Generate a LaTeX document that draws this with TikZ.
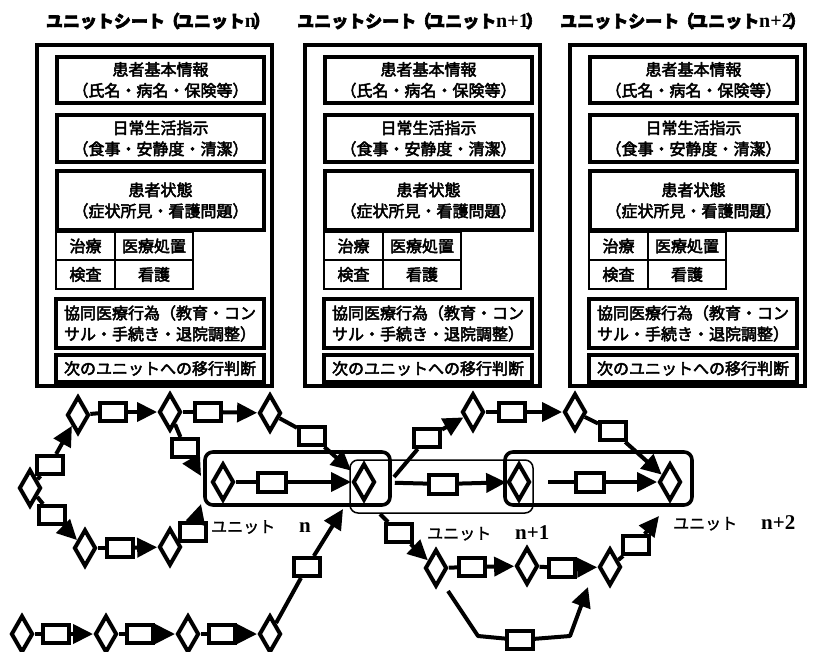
\documentclass[tikz,border=0pt]{standalone}
\usepackage{fontspec}
\setmainfont{Liberation Serif}
\newfontfamily\jp{Noto Sans CJK JP}[FakeBold=3]
\newfontfamily\jpt{Noto Sans CJK JP}[FakeBold=3.5]
\newfontfamily\jpl{Noto Sans CJK JP}[FakeBold=1.5]
\usetikzlibrary{shapes.geometric,arrows.meta}
\begin{document}
\begin{tikzpicture}[x=1pt,y=-1pt,
  dia/.style={diamond, draw, line width=4pt, fill=white, minimum width=22pt, minimum height=37pt, inner sep=0pt},
  blk/.style={rectangle, draw, line width=4pt, fill=white, minimum width=26pt, minimum height=18pt, inner sep=0pt},
  ln/.style={line width=4pt},
  arr/.style={line width=4pt, -{Triangle[length=20pt,width=19pt]}},
  unitbox/.style={rectangle, rounded corners=8pt, draw, line width=3.6pt, inner sep=0pt},
  sheet/.style={rectangle, draw, line width=3.6pt, inner sep=0pt, minimum width=235pt, minimum height=341pt},
  ibox/.style={rectangle, draw, line width=3.4pt, inner sep=0pt, minimum width=207pt, align=center, font=\jp\fontsize{16}{21}\selectfont},
  cell/.style={rectangle, draw, line width=2.8pt, inner sep=0pt, font=\jp\fontsize{16}{18}\selectfont},
  ttl/.style={font=\fontsize{17}{19}\selectfont\bfseries},
  ulab/.style={anchor=west, inner sep=0pt}]
\useasboundingbox (0,0) rectangle (817,651);

% ---------- unit sheets ----------
\foreach \ox/\s/\tx/\lab in {0/1/158/n, 268/2/420/n+1, 533/3/683/n+2}{
  \node[ttl] (title\s) at (\tx,21) {{\jpt ユニットシート}{\jpt\kern-2pt（\kern-3pt ユニット}{\fontsize{20}{20}\selectfont\lab}{\jpt\kern-3pt ）}};
  \node[sheet] (sheet\s) at (154.5+\ox,215.5) {};
  \node[ibox, minimum height=46pt] (basic\s) at (160.5+\ox,80) {患者基本情報\\（氏名・病名・保険等）};
  \node[ibox, minimum height=47pt] (daily\s) at (160.5+\ox,138.5) {日常生活指示\\（食事・安静度・清潔）};
  \node[ibox, minimum height=59pt] (state\s) at (160.5+\ox,200.5) {患者状態\\（症状所見・看護問題）};
  \node[cell, minimum width=59pt, minimum height=28pt] (treat\s) at (85.5+\ox,246) {治療};
  \node[cell, minimum width=78pt, minimum height=28pt] (proc\s) at (154+\ox,246) {医療処置};
  \node[cell, minimum width=59pt, minimum height=29pt] (exam\s) at (85.5+\ox,274.5) {検査};
  \node[cell, minimum width=78pt, minimum height=29pt] (nurse\s) at (154+\ox,274.5) {看護};
  \node[ibox, minimum width=208pt, minimum height=49pt, align=left] (coop\s) at (160+\ox,323.5) {協同医療行為（教育・コン\\サル・手続き・退院調整）};
  \node[ibox, minimum width=208pt, minimum height=27pt] (next\s) at (160+\ox,368.5) {次のユニットへの移行判断};
}

% ---------- unit frames ----------
\node[unitbox, minimum width=185pt, minimum height=53pt] (unitn) at (297.5,478.5) {};
\node[unitbox, line width=1.5pt, minimum width=183pt, minimum height=53pt] (unitn1) at (441.5,486.5) {};
\node[unitbox, minimum width=187pt, minimum height=53pt] (unitn2) at (598.5,478.5) {};

% ---------- nodes ----------
% top-left row
\node[dia] (d1) at (78,415) {};
\node[blk] (r1) at (113,412) {};
\node[dia] (d2) at (170,412) {};
\node[blk] (r2) at (208,412) {};
\node[dia] (d3) at (270,413) {};
\node[blk] (r3) at (312,436) {};
\node[blk] (r4) at (185,448) {};
% left loop
\node[dia] (d4) at (30,488) {};
\node[blk] (r5) at (50,465) {};
\node[blk] (r6) at (52,515) {};
\node[dia] (d5) at (85,548) {};
\node[blk] (r7) at (120,548) {};
\node[dia] (d6) at (170,547) {};
\node[blk] (r8) at (193,532) {};
% unit row
\node[dia] (A) at (223,482) {};
\node[blk, minimum width=28pt, minimum height=19pt] (r9) at (272,482) {};
\node[dia] (B) at (364,482) {};
\node[blk, minimum width=28pt, minimum height=19pt] (r10) at (443,484) {};
\node[dia] (C) at (519,482) {};
\node[blk, minimum width=28pt, minimum height=19pt] (r11) at (590,482) {};
\node[dia] (D) at (670,482) {};
% upper right branch
\node[blk] (r12) at (427,438) {};
\node[dia] (E) at (473,412) {};
\node[blk] (r13) at (512,412) {};
\node[dia] (F) at (575,412) {};
\node[blk] (r14) at (613,431) {};
% lower right branch
\node[blk] (r15) at (399,533) {};
\node[dia] (G) at (436,568) {};
\node[blk] (r16) at (472,567) {};
\node[dia] (H) at (527,566) {};
\node[blk] (r17) at (562,568) {};
\node[dia] (I) at (610,567) {};
\node[blk] (r18) at (636,545) {};
\node[blk] (r19) at (520,640) {};
% bottom-left row
\node[dia] (d7) at (22,634) {};
\node[blk] (r20) at (56,634) {};
\node[dia] (d8) at (106,634) {};
\node[blk] (r21) at (140,634) {};
\node[dia] (d9) at (188,634) {};
\node[blk] (r22) at (222,634) {};
\node[dia] (d10) at (270,634) {};
\node[blk] (r23) at (307,567) {};

% free ends
\coordinate (c1) at (201,476);
\coordinate (c2) at (201,504);
\coordinate (cB1) at (394,477);
\coordinate (cB2) at (380,514);
\coordinate (c3) at (659,516);
\coordinate (c4) at (343,509);
\coordinate (gB) at (448,591);
\coordinate (g1) at (478,636);
\coordinate (g2) at (570,636);
\coordinate (g3) at (588,587);

% ---------- connectors ----------
\draw[ln] (d1) -- (r1); \draw[arr] (r1) -- (d2);
\draw[ln] (d2) -- (r2); \draw[arr] (r2) -- (d3);
\draw[ln] (d3) -- (r3); \draw[arr, shorten >=6pt] (r3) -- (B);
\draw[ln] (d2) -- (r4); \draw[arr] (r4) -- (c1);
\draw[ln] (d4) -- (r5); \draw[arr] (r5) -- (d1);
\draw[ln] (d4) -- (r6); \draw[arr] (r6) -- (d5);
\draw[ln] (d5) -- (r7); \draw[arr] (r7) -- (d6);
\draw[ln] (d6) -- (r8); \draw[arr] (r8) -- (c2);
\draw[ln] (A) -- (r9); \draw[arr] (r9) -- (B);
\draw[ln, shorten <=18pt] (B) -- (r10); \draw[arr] (r10) -- (C);
\draw[ln, shorten <=16pt] (C) -- (r11); \draw[arr] (r11) -- (D);
\draw[ln] (cB1) -- (r12); \draw[arr] (r12) -- (E);
\draw[ln] (E) -- (r13); \draw[arr] (r13) -- (F);
\draw[ln] (F) -- (r14); \draw[arr] (r14) -- (D);
\draw[ln] (cB2) -- (r15); \draw[arr] (r15) -- (G);
\draw[ln] (G) -- (r16); \draw[arr] (r16) -- (H);
\draw[ln] (H) -- (r17); \draw[arr] (r17) -- (I);
\draw[ln] (I) -- (r18); \draw[arr] (r18) -- (c3);
\draw[ln, line join=round] (gB) -- (g1) -- (r19);
\draw[arr, line join=round] (r19) -- (g2) -- (g3);
\draw[ln] (d7) -- (r20); \draw[arr] (r20) -- (d8);
\draw[ln] (d8) -- (r21); \draw[arr] (r21) -- (d9);
\draw[ln] (d9) -- (r22); \draw[arr] (r22) -- (d10);
\draw[ln] (d10) -- (r23); \draw[arr] (r23) -- (c4);

% ---------- labels ----------
\node[ulab] (labn) at (211,527) {{\jpl\fontsize{16}{17}\selectfont ユニット}\hspace{24pt}{\fontsize{21}{21}\selectfont\bfseries n}};
\node[ulab] (labn1) at (427,533) {{\jpl\fontsize{16}{17}\selectfont ユニット}\hspace{24pt}{\fontsize{21}{21}\selectfont\bfseries n+1}};
\node[ulab] (labn2) at (673,523) {{\jpl\fontsize{16}{17}\selectfont ユニット}\hspace{24pt}{\fontsize{21}{21}\selectfont\bfseries n+2}};
\end{tikzpicture}
\end{document}
